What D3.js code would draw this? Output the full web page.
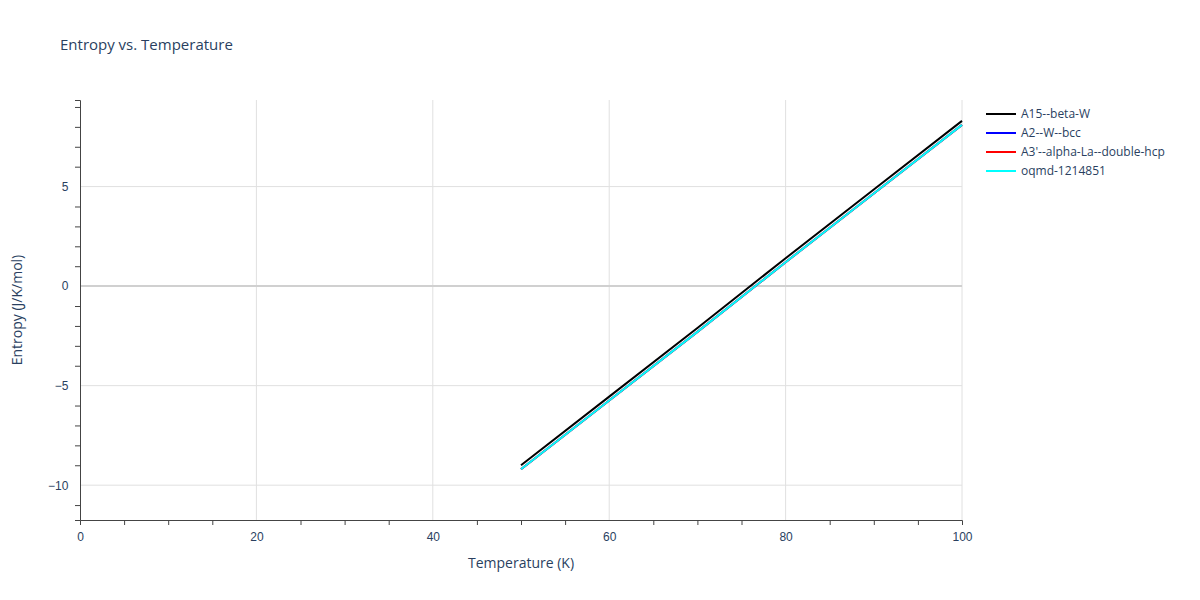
<!DOCTYPE html>
<html>
<head>
<meta charset="utf-8">
<script src="https://cdn.jsdelivr.net/npm/d3@7"></script>
<style>
  body { margin: 0; font-family: "Open Sans", sans-serif; }
  text { fill: #2a3f5f; }
</style>
</head>
<body>
<div id="chart"></div>
<script>
const temps = [50, 60, 70, 80, 90, 100];
const seriesNames = ["A15--beta-W", "A2--W--bcc", "A3'--alpha-La--double-hcp", "oqmd-1214851"];
const seriesColors = ["black", "blue", "red", "cyan"];
const a15 = [-9.0, -5.55, -2.1, 1.4, 4.85, 8.3];
const a2 = [-9.2, -5.75, -2.3, 1.2, 4.65, 8.1];
const a3 = [-9.2, -5.75, -2.3, 1.2, 4.65, 8.1];
const oqmd = [-9.2, -5.75, -2.3, 1.2, 4.65, 8.1];
const seriesValues = [a15, a2, a3, oqmd];
const xTicks = [0, 20, 40, 60, 80, 100];
const yTicks = [-10, -5, 0, 5];

const margin = { top: 100, right: 238, bottom: 80, left: 80 };
const W = 1200, H = 600;
const width = W - margin.left - margin.right;
const height = H - margin.top - margin.bottom;

const svg = d3.select("#chart").append("svg")
    .attr("width", W).attr("height", H);

svg.append("text").attr("x", 60).attr("y", 50)
    .attr("font-size", 15).text("Entropy vs. Temperature");

const g = svg.append("g").attr("transform", `translate(${margin.left},${margin.top})`);

const x = d3.scaleLinear().domain([0, 100]).range([0, width]);
const y = d3.scaleLinear().domain([-11.75, 9.35]).range([height, 0]);

// grid
g.selectAll(".xg").data(xTicks.slice(1)).enter().append("line")
    .attr("x1", d => x(d)).attr("x2", d => x(d)).attr("y1", 0).attr("y2", height)
    .attr("stroke", "#e0e0e0");
g.selectAll(".yg").data(yTicks).enter().append("line")
    .attr("x1", 0).attr("x2", width).attr("y1", d => y(d)).attr("y2", d => y(d))
    .attr("stroke", d => d === 0 ? "#d0d0d0" : "#e0e0e0")
    .attr("stroke-width", d => d === 0 ? 2 : 1);

// axes
const xAxis = g.append("g").attr("transform", `translate(0,${height})`)
    .call(d3.axisBottom(x).tickValues(d3.range(0, 101, 5)).tickSize(5)
      .tickFormat(d => d % 20 === 0 ? d : ""));
xAxis.selectAll(".tick line").attr("stroke", "#444").attr("y2", d => d % 20 === 0 ? 0 : 5);
xAxis.selectAll("text").attr("font-size", 12).attr("dy", "1.1em");
xAxis.select(".domain").attr("stroke", "#444");

const yAxis = g.append("g")
    .call(d3.axisLeft(y).tickValues(d3.range(-11, 10, 1)).tickSize(5)
      .tickFormat(d => yTicks.includes(d) ? d3.format("")(d).replace("-", "\u2212") : ""));
yAxis.selectAll(".tick line").attr("stroke", "#444").attr("x2", d => yTicks.includes(d) ? 0 : -5);
yAxis.selectAll("text").attr("font-size", 12).attr("dx", "-0.3em");
yAxis.select(".domain").attr("stroke", "#444");

svg.append("text").attr("x", margin.left + width / 2).attr("y", 568)
    .attr("text-anchor", "middle").attr("font-size", 14).text("Temperature (K)");
svg.append("text").attr("transform", `translate(22,${margin.top + height / 2}) rotate(-90)`)
    .attr("text-anchor", "middle").attr("font-size", 14).text("Entropy (J/K/mol)");

// lines, drawn so black stays visible
const line = d3.line().x((d, i) => x(temps[i])).y(d => y(d));
const order = [1, 2, 3, 0];
order.forEach(k => {
  g.append("path").datum(seriesValues[k]).attr("d", line)
    .attr("fill", "none").attr("stroke", seriesColors[k]).attr("stroke-width", 2);
});

// legend
const leg = svg.append("g").attr("transform", "translate(986,114)");
seriesNames.forEach((n, i) => {
  const r = leg.append("g").attr("transform", `translate(0,${i * 19})`);
  r.append("line").attr("x1", 0).attr("x2", 30).attr("stroke", seriesColors[i]).attr("stroke-width", 2);
  r.append("text").attr("x", 35).attr("y", 4).attr("font-size", 12).text(n);
});
</script>
</body>
</html>
